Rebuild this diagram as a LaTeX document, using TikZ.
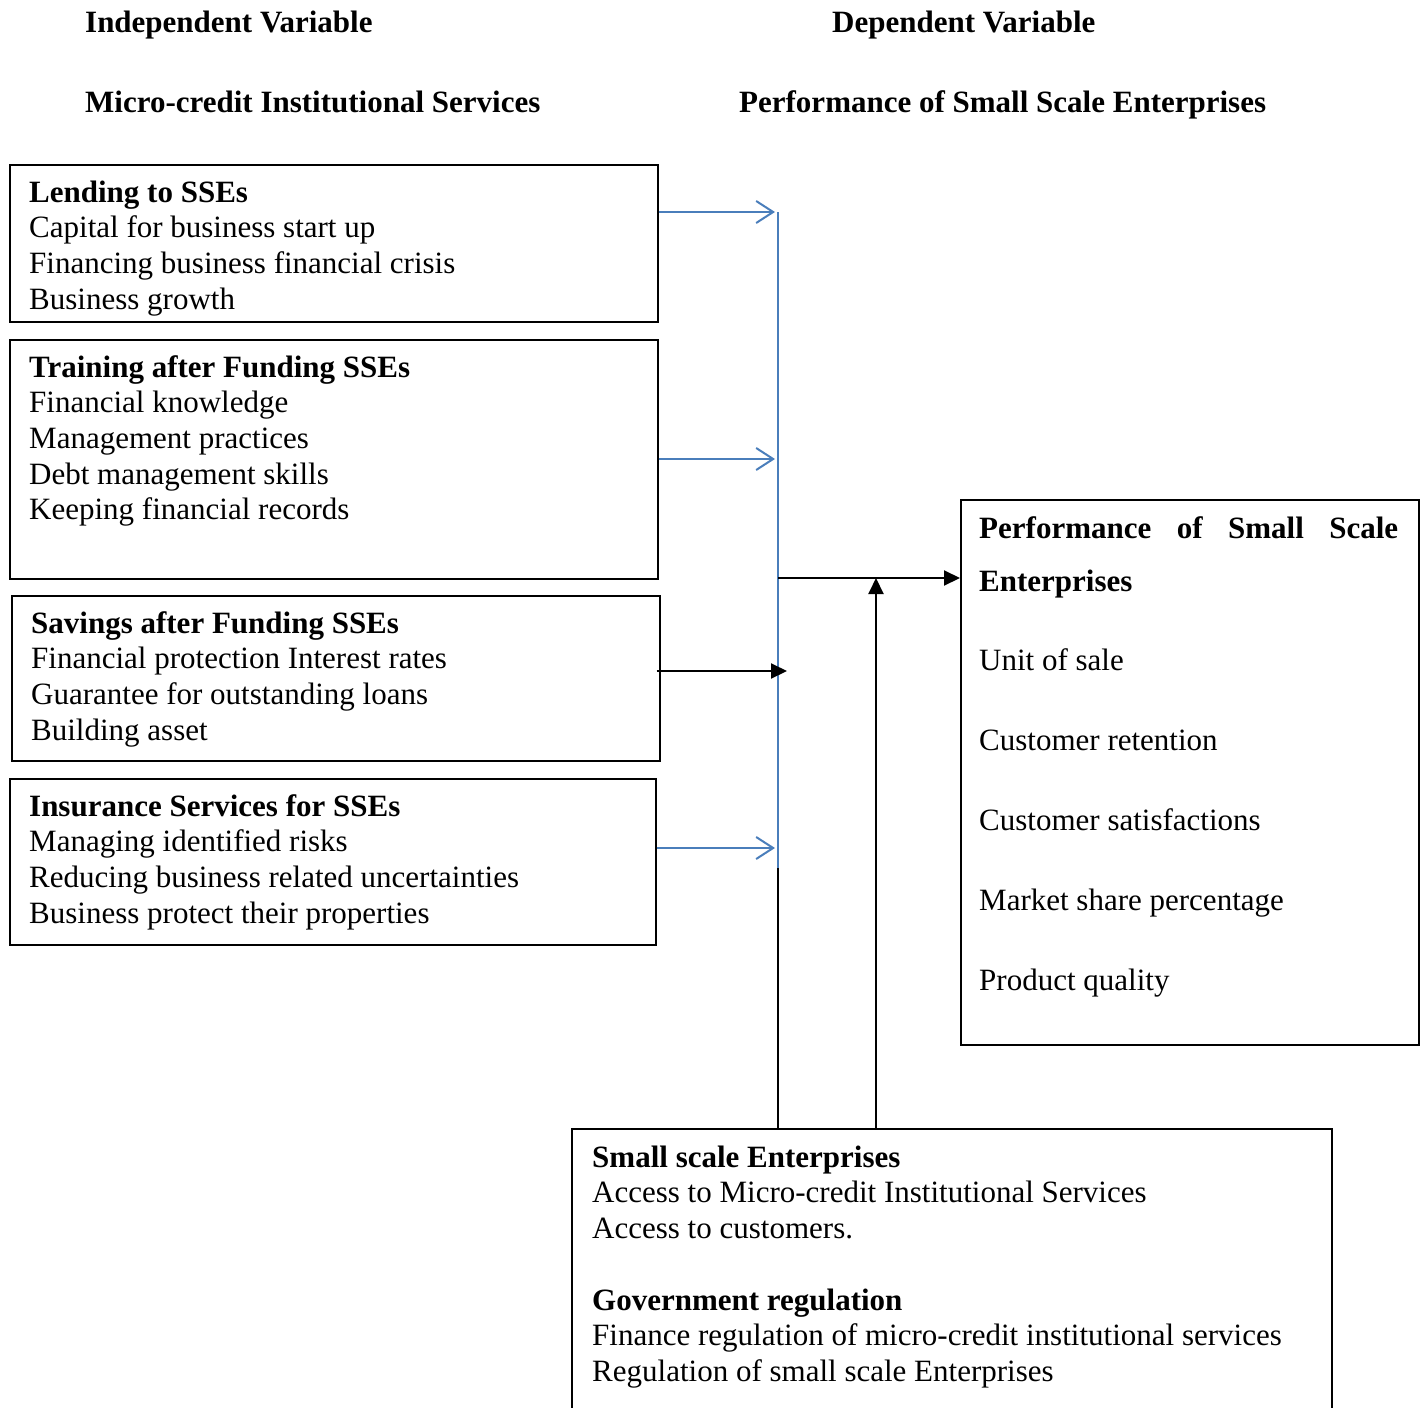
\documentclass[tikz,border=0pt]{standalone}
\usepackage{fontspec}
\setmainfont{Liberation Serif}
\usetikzlibrary{arrows.meta}
\definecolor{arrblue}{RGB}{74,126,187}
\tikzset{
  box/.style={draw=black, line width=1.5pt, rectangle, inner sep=0pt, anchor=north west},
  txt/.style={inner sep=0pt, anchor=base west, font=\fontsize{31}{35.7}\selectfont},
  hdr/.style={inner sep=0pt, anchor=base west, font=\fontsize{31}{35.7}\selectfont\bfseries},
  bluearr/.style={draw=arrblue, line width=2pt, -{Straight Barb[length=17pt,width=22pt,line width=2pt]}},
  bluepath/.style={draw=arrblue, line width=2pt},
  blackarr/.style={draw=black, line width=2pt, -{Triangle[length=16pt,width=15pt]}},
  blackpath/.style={draw=black, line width=2pt}
}
\begin{document}
\begin{tikzpicture}[x=1pt,y=-1pt]
\clip (0,0) rectangle (1425,1408);
\useasboundingbox (0,0) rectangle (1425,1408);

% headers
\node[hdr] (h1) at (85,32) {Independent Variable};
\node[hdr] (h2) at (832,32) {Dependent Variable};
\node[hdr] (h3) at (85,112) {Micro-credit Institutional Services};
\node[hdr] (h4) at (739,112) {Performance of Small Scale Enterprises};

% left boxes
\node[box, minimum width=648pt, minimum height=157pt] (b1) at (9,164) {};
\begin{scope}
\clip (b1.north west) rectangle (b1.south east);
\node[txt] (t1) at (29,202) {\parbox[t]{620pt}{\textbf{Lending to SSEs}\\
Capital for business start up\\
Financing business financial crisis\\
Business growth}};
\end{scope}

\node[box, minimum width=648pt, minimum height=239pt] (b2) at (9,339) {};
\node[txt] (t2) at (29,377) {\parbox[t]{620pt}{\textbf{Training after Funding SSEs}\\
Financial knowledge\\
Management practices\\
Debt management skills\\
Keeping financial records}};

\node[box, minimum width=648pt, minimum height=165pt] (b3) at (11,595) {};
\node[txt] (t3) at (31,633) {\parbox[t]{620pt}{\textbf{Savings after Funding SSEs}\\
Financial protection Interest rates\\
Guarantee for outstanding loans\\
Building asset}};

\node[box, minimum width=646pt, minimum height=166pt] (b4) at (9,778) {};
\node[txt] (t4) at (29,816) {\parbox[t]{620pt}{\textbf{Insurance Services for SSEs}\\
Managing identified risks\\
Reducing business related uncertainties\\
Business protect their properties}};

% right box
\node[box, minimum width=458pt, minimum height=545pt] (rb) at (960,499) {};
\node[txt] (tr) at (979,538) {\parbox[t]{430pt}{\makebox[419pt][s]{\textbf{Performance\hfill of\hfill Small\hfill Scale}}\\[17.3pt]
\textbf{Enterprises}\\[43.3pt]
Unit of sale\\[44.3pt]
Customer retention\\[44.3pt]
Customer satisfactions\\[44.3pt]
Market share percentage\\[44.3pt]
Product quality}};

% bottom box
\node[box, minimum width=760pt, minimum height=300pt] (bb) at (571,1128) {};
\node[txt] (tb) at (592,1167) {\parbox[t]{740pt}{\textbf{Small scale Enterprises}\\
Access to Micro-credit Institutional Services\\
Access to customers.\\[36pt]
\textbf{Government regulation}\\
Finance regulation of micro-credit institutional services\\
Regulation of small scale Enterprises}};

% junction coordinates
\coordinate (jtop) at (778,212);
\coordinate (jmid) at (778,578);
\coordinate (jlow) at (778,868);
\coordinate (jx) at (876,578);
\coordinate (a1) at (775,212);
\coordinate (a2) at (775,459);
\coordinate (a3) at (787,671);
\coordinate (a4) at (775,848);

% connectors
\draw[bluepath] (jtop) -- (jlow);
\draw[blackpath] (jlow) -- (bb.north -| jlow);
\draw[bluearr] (b1.east |- a1) -- (a1);
\draw[bluearr] (b2.east |- a2) -- (a2);
\draw[blackarr] ([xshift=-4pt]b3.east |- a3) -- (a3);
\draw[bluearr] (b4.east |- a4) -- (a4);
\draw[blackarr] (jmid) -- (rb.west |- jmid);
\draw[blackarr] (bb.north -| jx) -- (jx);
\end{tikzpicture}
\end{document}
